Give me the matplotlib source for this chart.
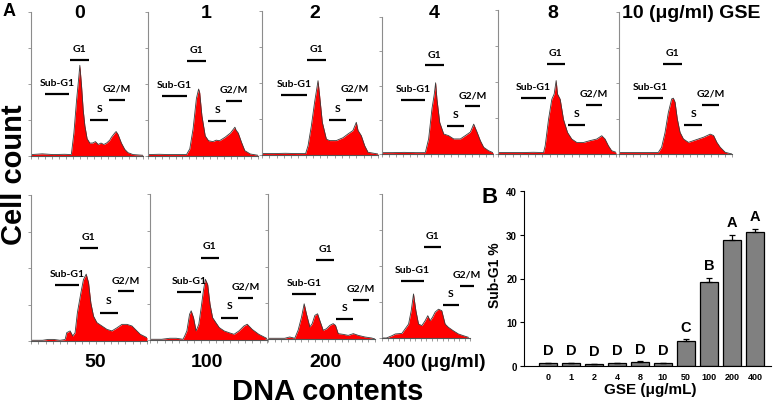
import numpy as np
import matplotlib
matplotlib.use("Agg")
import matplotlib.pyplot as plt
from matplotlib.ticker import MultipleLocator

plt.rcParams['font.family'] = ['Liberation Sans', 'DejaVu Sans']

# ---------------- data: flow-cytometry histograms (channel %, count %) ----------
h0_ch = [0, 10, 20, 30, 36, 38.3, 40.7, 42.7, 43.6, 45.1, 46.6, 48.1, 50.1, 52.5, 55, 57.5, 60, 62.5, 65,
         67.5, 70.3, 71.8, 74.8, 76, 77.7, 80.7, 83.7, 86.6, 91.1, 100]
h0_ct = [1, 1.5, 1, 1.2, 1, 16, 39, 55, 63, 49, 32, 21, 12, 9, 9, 10, 8, 9, 8,
         9, 11, 13, 16, 17, 15, 9, 4.6, 2.3, 1, 0.5]

h1_ch = [0, 10, 20, 30, 35, 38, 41, 44, 46, 47, 49, 52, 55, 59, 62, 65, 70, 75, 77, 79, 80, 82, 85, 88, 93, 100]
h1_ct = [1, 1.2, 1, 1, 1, 5, 19, 40, 46.5, 44, 28, 14, 10.6, 10, 11, 10.6, 13, 16, 18, 20, 18, 16, 9.5, 3.7, 1.4, 0.5]

h2_ch = [0, 10, 20, 30, 37.6, 39.7, 42.5, 45.4, 47.4, 48.3, 49.7, 52, 55.5, 58.3, 64, 69.8, 74.1, 78.4,
         81.3, 82.8, 85.6, 88.5, 91.4, 100]
h2_ct = [1, 1, 1.2, 1, 1, 6.5, 20, 37, 47, 51.6, 41, 22.7, 11, 10, 10, 12, 14.6, 17,
         22.7, 17, 13.4, 6.5, 1.9, 0.7]

h4_ch = [0, 10, 20, 30, 39, 42, 45, 47.1, 48.3, 49.5, 52, 55.6, 60, 64.6, 70.6, 75, 79.6, 82.6, 85.6,
         88.6, 91.6, 96, 100]
h4_ct = [1, 1, 1.2, 1, 1, 11, 33, 43.7, 52, 40, 23, 14.6, 13.4, 11, 11, 13.4, 16, 21.8, 16,
         9.7, 4.9, 2.4, 1]

h8_ch = [0, 10, 20, 30, 38.6, 40, 42.8, 45.6, 47.6, 49.3, 50.4, 52.7, 55.5, 58.9, 62.5, 66.8, 72.4, 78,
         83.7, 87.9, 90.7, 93.5, 96.3, 100]
h8_ct = [1, 1, 1, 1.2, 1, 5.8, 24, 38, 41.7, 51, 41.7, 38, 24, 15, 10.4, 8, 8, 9.3,
         10.4, 12.7, 10.4, 5.8, 2.3, 1.2]

h10_ch = [0, 10, 20, 30, 34.7, 37.7, 40.7, 43.6, 46.6, 48.1, 49.6, 51.6, 54, 57, 61.4, 65.9, 70.3, 74.8,
          80.7, 83.7, 86.6, 89.6, 94, 100]
h10_ct = [1, 1, 1, 1, 1, 4.7, 15, 29, 38.8, 39.3, 36.5, 24.7, 15.3, 10.6, 8.2, 9.4, 10.6, 11.8,
          14, 13, 8.2, 4.7, 1.2, 0]

h50_ch = [0, 10, 15, 19.3, 25, 29.4, 30.8, 33.7, 36, 38, 40, 43, 45.2, 47.6, 49.6, 51.6, 53.9, 56.8,
          61.1, 65.4, 69.7, 74, 78.4, 82.7, 87, 89.9, 94.2, 100]
h50_ct = [0.5, 0.5, 1.1, 1.1, 0.5, 1, 5.7, 6.9, 3.4, 5.7, 19.5, 33, 42, 45.8, 40, 26, 17, 12.6,
          10.3, 8, 6.9, 9, 11.4, 11.4, 10.3, 8, 4.6, 2.3]

h100_ch = [0, 10, 16.9, 22.5, 28.2, 29.6, 31.5, 33.8, 35.2, 37.2, 39.4, 41.7, 43.7, 45.6, 47.3, 49.3,
           51.3, 53.5, 56.3, 59.2, 63.4, 67.6, 71.8, 76, 80.3, 83.1, 87.3, 93, 98.6, 100]
h100_ct = [0.5, 0.5, 1.2, 1.2, 0.5, 2.7, 6.2, 17.6, 20, 15.3, 6.2, 10.8, 22, 33.6, 41.6, 38,
           24.5, 15.3, 11.9, 8.5, 6.2, 5, 3.9, 6.2, 9.6, 10.8, 7.3, 3.9, 1.6, 1]

h200_ch = [0, 10, 15.6, 20.3, 25, 28.1, 31.3, 33.8, 35.9, 39.1, 41.3, 43.8, 46.3, 48.4, 51.6, 54.7,
           57.8, 60.9, 63.1, 65.6, 70.3, 75, 79.7, 84.4, 90.6, 96.9, 100]
h200_ct = [0.5, 0.5, 0.5, 1.4, 0.5, 6, 15, 24.3, 17.4, 8.3, 10.6, 16.3, 17.4, 12.8, 6, 7.1,
           9.4, 10.6, 9.4, 3.7, 3.2, 2.5, 3.7, 2.5, 1.4, 0.7, 0]

h400_ch = [0, 5, 11.3, 15.1, 22.6, 30.2, 33.2, 35.8, 38.5, 41.5, 45.3, 49, 52, 54.7, 57.4, 60.4, 64.2,
           67.9, 71.7, 75.5, 81.1, 86.8, 92.5, 98.1]
h400_ct = [0, 0, 1.6, 2.8, 3.2, 9.7, 19, 30.6, 19, 9.7, 8.6, 12, 15.5, 12, 14.4, 18, 20,
           19, 9.7, 7.4, 5, 2.8, 1.6, 0.5]

# gates: (start channel, end channel, marker level) for Sub-G1, G1, S, G2/M
gates_0 = [(12.5, 34, 43), (35, 52, 66.7), (53, 69, 25), (69.4, 83.6, 38.9)]
gates_1 = [(12.4, 35, 41.9), (35, 52.4, 66.2), (54.8, 70.9, 24.5), (70.9, 85.2, 38.4)]
gates_2 = [(16.7, 38.8, 41.9), (38.5, 55.5, 66), (57.5, 72.7, 24.3), (72.7, 86.5, 38.2)]
gates_4 = [(17.1, 39, 39.6), (39, 56.2, 64.8), (58.6, 74.2, 20.6), (74.5, 88.6, 35.2)]
gates_8 = [(19.7, 40.8, 38.7), (41.4, 56.9, 62.3), (59.2, 74.1, 20.4), (74.6, 88.2, 34.3)]
gates_10 = [(16.9, 39.2, 39.3), (39.2, 55.8, 63.3), (57.9, 73.6, 20.7), (73.6, 88.1, 34.8)]
gates_50 = [(21, 41.8, 38.2), (42.4, 57.6, 63.4), (59.7, 74.6, 19.5), (74.6, 88.5, 34.1)]
gates_100 = [(23.1, 43.7, 32.7), (43.7, 58.6, 56.5), (60.8, 74.9, 15.3), (74.9, 88.2, 29)]
gates_200 = [(22.5, 44.7, 31), (45.3, 61.9, 54.4), (64, 79.7, 13.5), (79.7, 94.7, 27)]
gates_400 = [(21.5, 47.2, 39.8), (47.9, 67.2, 63.4), (69.4, 87.2, 22.9), (88.7, 104.9, 36.1)]
gate_names = ['Sub-G1', 'G1', 'S', 'G2/M']

# panel B data
doses = ['0', '1', '2', '4', '8', '10', '50', '100', '200', '400']
sub_g1 = [0.6, 0.6, 0.4, 0.6, 0.9, 0.6, 5.8, 19.1, 28.9, 30.6]
sub_g1_err = [0.1, 0.2, 0.1, 0.1, 0.15, 0.1, 0.3, 1.0, 1.1, 0.7]
groups = ['D', 'D', 'D', 'D', 'D', 'D', 'C', 'B', 'A', 'A']

# ---------------- figure ----------------
W, H = 778, 406
fig = plt.figure(figsize=(W / 100, H / 100), dpi=100)


def rect(l, t, r, b):
    return [l / W, 1 - b / H, (r - l) / W, (b - t) / H]


def ftext(x, y, s, **kw):
    fig.text(x / W, 1 - y / H, s, **kw)


def hist_panel(box, ch, ct, gates):
    ax = fig.add_axes(rect(*box))
    ax.fill_between(ch, ct, color='#ff0000', lw=0)
    ax.plot(ch, ct, color='#3a3a3a', lw=0.6)
    ax.set_xlim(0, 100)
    ax.set_ylim(0, 100)
    for sp in ['top', 'right']:
        ax.spines[sp].set_visible(False)
    ax.spines['left'].set_color('#8c8c8c')
    ax.spines['bottom'].set_color('#555555')
    ax.spines['left'].set_linewidth(0.8)
    ax.spines['bottom'].set_linewidth(0.8)
    ax.set_yticks([0, 25, 50, 75, 100])
    ax.set_yticklabels([])
    ax.xaxis.set_major_locator(MultipleLocator(6.25))
    ax.set_xticklabels([])
    ax.tick_params(length=2.5, width=0.6, color='#8c8c8c', direction='out')
    for (x0, x1, y), name in zip(gates, gate_names):
        ax.plot([x0, x1], [y, y], color='black', lw=1.6, clip_on=False, solid_capstyle='butt')
        ax.text((x0 + x1) / 2, y + 8, name, ha='center', va='center', fontsize=7.5,
                fontweight='bold', family=['Lato', 'DejaVu Sans'], clip_on=False)
    return ax


top_panels = [((31, 13, 143, 157), h0_ch, h0_ct, gates_0),
              ((148, 13, 258, 157), h1_ch, h1_ct, gates_1),
              ((262, 12, 378, 156), h2_ch, h2_ct, gates_2),
              ((382, 18, 493, 155), h4_ch, h4_ct, gates_4),
              ((498, 11, 616, 155), h8_ch, h8_ct, gates_8),
              ((619, 13, 732, 155), h10_ch, h10_ct, gates_10)]
bottom_panels = [((31, 196, 147, 342), h50_ch, h50_ct, gates_50),
                 ((150, 195, 267, 341), h100_ch, h100_ct, gates_100),
                 ((268, 195, 375, 340), h200_ch, h200_ct, gates_200),
                 ((382, 195, 470, 339), h400_ch, h400_ct, gates_400)]
for p in top_panels + bottom_panels:
    hist_panel(*p)

# panel A labels
bold = dict(fontweight='bold')
ftext(9, 12, 'A', fontsize=13, ha='center', va='center', **bold)
for x, s in [(80, '0'), (206, '1'), (315, '2'), (434, '4'), (553, '8')]:
    ftext(x, 14, s, fontsize=14, ha='center', va='center', **bold)
ftext(622, 14, '10 (\u03bcg/ml) GSE', fontsize=14, ha='left', va='center', **bold)
for x, s in [(95, '50'), (207, '100'), (326, '200')]:
    ftext(x, 363, s, fontsize=14, ha='center', va='center', **bold)
ftext(383, 363, '400 (\u03bcg/ml)', fontsize=14, ha='left', va='center', **bold)
ftext(13.5, 175, 'Cell count', fontsize=21, rotation=90, ha='center', va='center', **bold)
ftext(328, 392, 'DNA contents', fontsize=21, ha='center', va='center', **bold)

# ---------------- panel B ----------------
axb = fig.add_axes(rect(524, 192, 771, 367))
xb = np.arange(len(doses))
axb.bar(xb, sub_g1, width=0.75, color='#808080', edgecolor='black', lw=0.9,
        yerr=[np.zeros(len(doses)), sub_g1_err],
        error_kw=dict(ecolor='black', elinewidth=0.9, capsize=2.5, capthick=0.9))
for i, (v, e, g) in enumerate(zip(sub_g1, sub_g1_err, groups)):
    axb.text(i, v + e + 1.3, g, ha='center', va='bottom', fontsize=10.5, **bold)
axb.set_xlim(-1.04, 9.7)
axb.set_ylim(0, 40)
axb.set_yticks([0, 10, 20, 30, 40])
axb.set_xticks(xb)
axb.set_xticklabels(doses, fontsize=6.5, fontweight='bold')
for lab in axb.get_yticklabels():
    lab.set_fontsize(7)
    lab.set_fontweight('bold')
axb.tick_params(axis='x', length=0, pad=4)
axb.tick_params(axis='y', length=3, width=0.8, direction='out', pad=2)
for sp in ['top', 'right']:
    axb.spines[sp].set_visible(False)
ftext(490, 198, 'B', fontsize=16, ha='center', va='center', **bold)
ftext(495, 275, 'Sub-G1 %', fontsize=10, rotation=90, ha='center', va='center', **bold)
ftext(650, 390, 'GSE (\u03bcg/mL)', fontsize=11, ha='center', va='center', **bold)

fig.savefig('out.png', dpi=100)
